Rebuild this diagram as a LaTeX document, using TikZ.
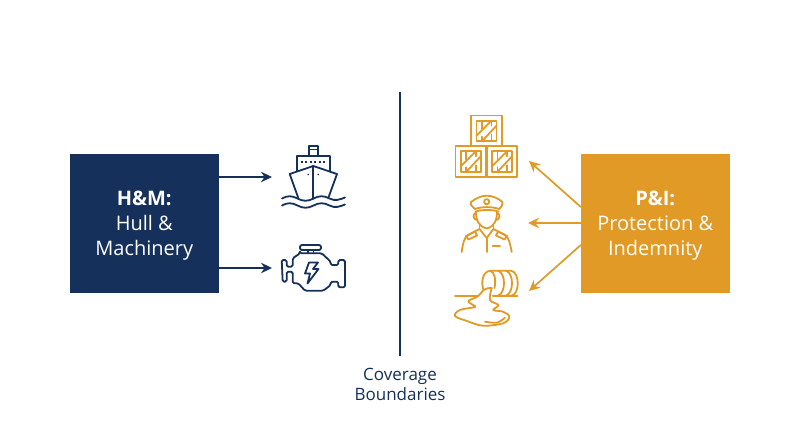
\documentclass[tikz,border=0pt]{standalone}
\usepackage{fontspec}
\setmainfont{Open Sans}
\usetikzlibrary{arrows.meta}
\definecolor{navy}{HTML}{15305A}
\definecolor{amber}{HTML}{E09A25}
\tikzset{
  panel/.style={minimum width=148.5pt,minimum height=139pt,inner sep=0pt,text=white,align=center,font=\fontsize{20}{25}\selectfont},
  link/.style={line width=1.7pt,-{Stealth[length=11pt,width=10.5pt]}},
  icon/.style={line width=1.8pt,line join=round,line cap=round},
  crate/.pic={
    \draw[icon,amber] (-15.3,-15.3) rectangle (15.3,15.3);
    \draw[icon,amber] (-10,-10) rectangle (10,10.5);
    \draw[icon,amber] (-4.5,-10)--(-4.5,-2) (-4.5,6)--(-4.5,10.5) (5,-10)--(5,-5) (5,4)--(5,10.5);
    \draw[icon,amber] (-10,5)--(5,-10) (-4.5,10.5)--(10,-5);
  }
}
\begin{document}
\begin{tikzpicture}[x=1pt,y=-1pt]
  \useasboundingbox (0,0) rectangle (800,447);
  \path (272,177) coordinate (ship) (272,268) coordinate (engine)
        (529,161) coordinate (cargo) (528,223) coordinate (crew) (529,291) coordinate (spill)
        (400,92) coordinate (divtop) (400,356) coordinate (divbot);
  \node[panel,fill=navy] (hm) at (144.25,223.5) {\rule{0pt}{18pt}\textbf{H\&M:}\\Hull \&\\Machinery};
  \node[panel,fill=amber] (pi) at (655.25,223.5) {\rule{0pt}{18pt}\textbf{P\&I:}\\Protection \&\\Indemnity};
  \draw[line width=1.7pt,navy] (divtop)--(divbot);
  \node[navy,align=center,font=\fontsize{17}{20}\selectfont] (cover) at (400,384) {Coverage\\Boundaries};
  % arrows
  \draw[link,navy] (hm.east |- ship)--(ship);
  \draw[link,navy] (hm.east |- engine)--(engine);
  \draw[link,amber] (pi.west |- 0,207)--(cargo);
  \draw[link,amber] (pi.west |- crew)--(crew);
  \draw[link,amber] (pi.west |- 0,245)--(spill);
  % ship
  \begin{scope}[icon,navy]
    \draw (309,156)--(309,146)--(317.7,146)--(317.7,156) (309,149.5)--(317.7,149.5);
    \draw (297,171)--(297,156)--(329.7,156)--(329.7,171);
    \draw[dash pattern=on 2pt off 2.4pt,line cap=butt] (301,162.3)--(327,162.3);
    \draw (298.3,198)--(289.7,174)--(313.3,166)--(337,174)--(328.3,198);
    \draw (313.3,166)--(313.3,199);
    \fill (308.3,174.5) circle (.9pt) (318.3,174.5) circle (.9pt);
    \foreach \y in {198.5,205.5}
      \draw (282,\y) .. controls (287,\y-3) and (292,\y-3) .. (297.5,\y) .. controls (303,\y+3) and (308,\y+3) .. (313.5,\y) .. controls (319,\y-3) and (324,\y-3) .. (329.5,\y) .. controls (335,\y+3) and (340,\y+1) .. (345,\y-1);
  \end{scope}
  % engine
  \begin{scope}[icon,navy]
    \draw[rounded corners=2pt] (300,245) rectangle (321,250);
    \draw (308,250)--(308,253.3) (313.5,250)--(313.5,253.3);
    \draw[rounded corners=1.5pt] (300,253.3)--(321.7,253.3)--(330.7,261.7)--(330.7,265)--(338.3,265)--(338.3,260)--(345,260)--(345,287.3)--(338.3,287.3)--(338.3,281.7)--(330.7,281.7)--(330.7,285)--(323.3,290.7)--(305,290.7)--(298.3,283.3)--(292.7,283.3)--(292.7,271.7)--(286.7,271.7)--(286.7,281.7)--(282.7,281.7)--(281.7,260)--(286.7,260)--(286.7,266.7)--(292.7,266.7)--(292.7,258.3)--(300,253.3)--cycle;
    \draw (309,262.5)--(318,262.5)--(313,269)--(318.5,269)--(307.5,283.5)--(310,273.5)--(305,273.5)--cycle;
  \end{scope}
  % crates
  \foreach \P in {(486.5,130.7),(470.8,161.3),(502,161.3)}
    \pic at \P {crate};
  % officer
  \begin{scope}[icon,amber]
    \draw (475,209) .. controls (470,205) and (470,203) .. (471,202) .. controls (476,198) and (482,195.7) .. (486.7,195.7) .. controls (492,195.7) and (498,198) .. (502.5,202) .. controls (503,204) and (502,206) .. (499.3,209);
    \draw (475,209) .. controls (482,206.5) and (492,206.5) .. (499.3,209);
    \draw (475.5,211.5) .. controls (482,209.5) and (492,209.5) .. (498.5,211.5);
    \draw (486.7,201.7) circle (2.6pt);
    \draw (476,212) .. controls (476,220) and (478,226) .. (486.7,228.5) .. controls (495,226) and (497,220) .. (497,212);
    \draw (475.5,213) .. controls (472.5,214) and (473,219) .. (476.5,220) (497.5,213) .. controls (500.5,214) and (500,219) .. (496.5,220);
    \draw (479.5,225)--(479.5,229) (493.5,225)--(493.5,229);
    \draw (461.7,252) .. controls (463,243) and (464,238) .. (468,235) -- (479.5,229) -- (486.7,238) -- (493.5,229) -- (505,235) .. controls (509,238) and (510,243) .. (511.7,252);
    \draw (486.7,238)--(486.7,252);
    \draw (466,236)--(475,231.5)--(477,235.5)--(468.5,239.5)--cycle (507,236)--(498,231.5)--(496,235.5)--(504.5,239.5)--cycle;
    \draw (492.7,246)--(500,246);
  \end{scope}
  % barrel
  \begin{scope}[icon,amber]
    \draw (483.5,290) .. controls (481,283) and (482,272) .. (490,270.7)--(511,270.7) .. controls (520,272) and (520,295) .. (511,295.7)--(493,295.7);
    \draw (490,270.7) .. controls (495,272) and (496,280) .. (494.5,288);
    \draw (498,270.7) .. controls (506,273) and (506,293) .. (498,295.7);
    \draw (506,270.7) .. controls (514,273) and (514,293) .. (506,295.7);
    \draw (455,295.7)--(477.5,295.7) (493,295.7)--(517.5,295.7);
    \draw plot[smooth,tension=.6] coordinates {(483.5,290) (477.5,296.5) (468.5,301) (473,305) (475,307) (460,310) (455,316) (467,321) (483,325.7) (503,323.3) (509.3,316.7) (503,311.7) (493.3,310) (498.3,305) (490,300) (491.7,288)};
    \draw (483.5,290) .. controls (486,288) and (489,288) .. (491.7,288);
    \draw plot[smooth] coordinates {(485,321.7) (497,322.7) (505,317.7)};
  \end{scope}
\end{tikzpicture}
\end{document}
